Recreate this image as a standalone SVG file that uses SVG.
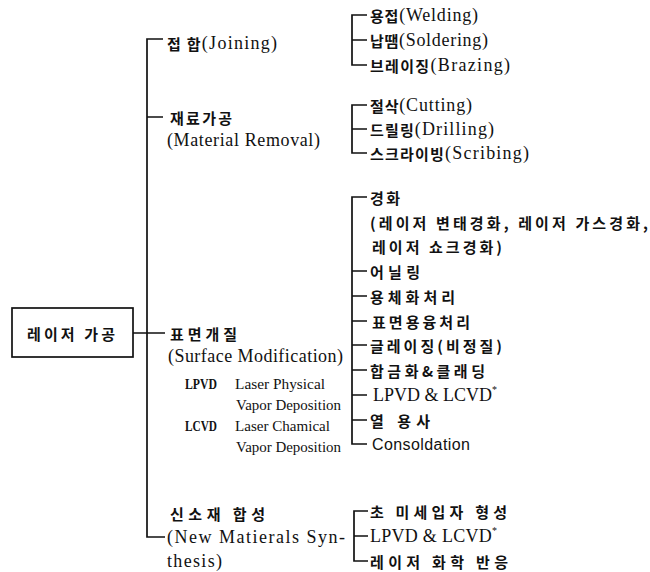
<svg xmlns="http://www.w3.org/2000/svg" width="650" height="572" viewBox="0 0 650 572">
<style>
text{fill:#111;font-family:"Liberation Serif","Noto Sans CJK KR",serif;font-size:18px;dominant-baseline:central}
.k{font-family:"Noto Sans CJK KR","Liberation Serif",sans-serif;font-weight:700;font-size:15px}
.s{font-family:"Liberation Sans","Noto Sans CJK KR",sans-serif;font-size:16px}
.sm{font-size:14px}
.b{font-weight:700}
.c path{fill:none;stroke:#111;stroke-width:1.7}
</style>
<rect width="650" height="572" fill="#fff"/>
<g class="c" id="connectors">
<path d="M163 39H147V537H165M147 117H163M133 333H165"/>
<path d="M367 15H352V65H367M352 40H367"/>
<path d="M367 105H352V153H367M352 129H367"/>
<path d="M367 197H352V444H367M352 271H367M352 296H367M352 321H367M352 345H367M352 370H367M352 395H367M352 420H367"/>
<path d="M368 511H354V561H368M354 536H368"/>
</g>
<g id="root"><rect x="12" y="308" width="121" height="49" fill="#fff" stroke="#111" stroke-width="1.7"/><text class="k" x="27" y="333" textLength="88" lengthAdjust="spacing">레이저 가공</text></g>
<g id="joining"><text x="167" y="43" textLength="110" lengthAdjust="spacing"><tspan class="k">접 합</tspan>(Joining)</text></g>
<g id="removal"><text class="k" x="170" y="117" textLength="62" lengthAdjust="spacing">재료가공</text><text x="167" y="140" textLength="153" lengthAdjust="spacing">(Material Removal)</text></g>
<g id="surface"><text class="k" x="170" y="333" textLength="67" lengthAdjust="spacing">표면개질</text><text x="168" y="356" textLength="175" lengthAdjust="spacing">(Surface Modification)</text></g>
<g id="legend">
<text class="sm b" x="185" y="384" textLength="32" lengthAdjust="spacingAndGlyphs">LPVD</text><text class="sm" x="235" y="384" textLength="90" lengthAdjust="spacingAndGlyphs">Laser Physical</text>
<text class="sm" x="236" y="405" textLength="105" lengthAdjust="spacingAndGlyphs">Vapor Deposition</text>
<text class="sm b" x="185" y="426" textLength="32" lengthAdjust="spacingAndGlyphs">LCVD</text><text class="sm" x="235" y="426" textLength="95" lengthAdjust="spacingAndGlyphs">Laser Chamical</text>
<text class="sm" x="236" y="447" textLength="105" lengthAdjust="spacingAndGlyphs">Vapor Deposition</text>
</g>
<g id="synthesis"><text class="k" x="170" y="513" textLength="95" lengthAdjust="spacing">신소재 합성</text><text x="167" y="537" textLength="178" lengthAdjust="spacing">(New Matierals Syn-</text><text x="167" y="561" textLength="55" lengthAdjust="spacing">thesis)</text></g>
<g id="welding"><text x="370" y="15" textLength="108" lengthAdjust="spacing"><tspan class="k">용접</tspan>(Welding)</text></g>
<g id="soldering"><text x="370" y="40" textLength="118" lengthAdjust="spacing"><tspan class="k">납땜</tspan>(Soldering)</text></g>
<g id="brazing"><text x="370" y="65" textLength="140" lengthAdjust="spacing"><tspan class="k">브레이징</tspan>(Brazing)</text></g>
<g id="cutting"><text x="370" y="105" textLength="102" lengthAdjust="spacing"><tspan class="k">절삭</tspan>(Cutting)</text></g>
<g id="drilling"><text x="370" y="129" textLength="124" lengthAdjust="spacing"><tspan class="k">드릴링</tspan>(Drilling)</text></g>
<g id="scribing"><text x="370" y="153" textLength="159" lengthAdjust="spacing"><tspan class="k">스크라이빙</tspan>(Scribing)</text></g>
<g id="hardening"><text class="k" x="370" y="197" textLength="30" lengthAdjust="spacing">경화</text><text class="k" x="370" y="222" textLength="278" lengthAdjust="spacing">(레이저 변태경화, 레이저 가스경화,</text><text class="k" x="372" y="246" textLength="130" lengthAdjust="spacing">레이저 쇼크경화)</text></g>
<g id="annealing"><text class="k" x="370" y="271" textLength="50" lengthAdjust="spacing">어닐링</text></g>
<g id="solution"><text class="k" x="370" y="296" textLength="85" lengthAdjust="spacing">용체화처리</text></g>
<g id="melting"><text class="k" x="372" y="321" textLength="98" lengthAdjust="spacing">표면용융처리</text></g>
<g id="glazing"><text class="k" x="370" y="345" textLength="132" lengthAdjust="spacing">글레이징(비정질)</text></g>
<g id="alloying"><text class="k" x="370" y="370" textLength="115" lengthAdjust="spacing">합금화&amp;클래딩</text></g>
<g id="lpvd1"><text x="373" y="395" textLength="124" lengthAdjust="spacing">LPVD &amp; LCVD<tspan font-size="10" dy="-6">*</tspan></text></g>
<g id="spray"><text class="k" x="370" y="420" textLength="60" lengthAdjust="spacing">열 용사</text></g>
<g id="consolidation"><text class="s" x="372" y="444" textLength="98" lengthAdjust="spacing">Consoldation</text></g>
<g id="ultrafine"><text class="k" x="370" y="511" textLength="137" lengthAdjust="spacing">초 미세입자 형성</text></g>
<g id="lpvd2"><text x="370" y="536" textLength="127" lengthAdjust="spacing">LPVD &amp; LCVD<tspan font-size="10" dy="-6">*</tspan></text></g>
<g id="chem"><text class="k" x="370" y="561" textLength="138" lengthAdjust="spacing">레이저 화학 반응</text></g>
</svg>
